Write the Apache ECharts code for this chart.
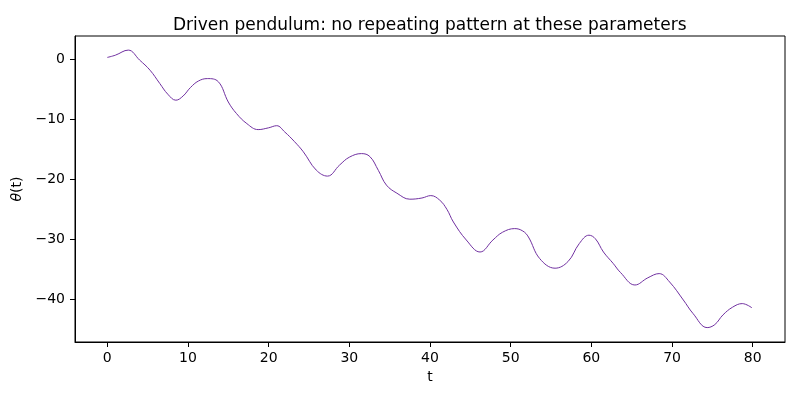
<!DOCTYPE html>
<html>
<head>
<meta charset="UTF-8">
<title>Driven pendulum</title>
<style>
    html, body { margin: 0; padding: 0; background: #fff; }
    #chartArea { width: 800px; height: 400px; }
</style>
</head>
<body>
<div id="chartArea"></div>
<script src="https://cdn.jsdelivr.net/npm/echarts@6/dist/echarts.min.js"></script>
<script>
// values
var tValues = [0, 1.0, 2.6, 4.0, 5.3, 6.5, 7.5, 8.5, 9.4, 10.3, 11.3, 12.4, 13.75, 15.0, 16.0, 17.3, 18.7, 20.0, 21.0, 22.0,
    23.2, 24.3, 25.9, 27.3, 28.8, 30.0, 31.5, 32.55, 33.6, 34.6, 35.9, 37.5, 39.0, 40.1, 41.2, 42.1, 42.9, 44.5, 46.2, 47.8,
    49.0, 50.5, 51.5, 52.2, 53.6, 55.5, 57.1, 58.5, 59.7, 60.5, 61.5, 62.7, 63.6, 65.4, 67.0, 68.4, 69.7, 71.4, 72.6, 74.35,
    75.3, 76.3, 77.5, 78.7, 79.9];
var thetaValues = [0.33, 0.7, 1.55, -0.1, -1.8, -4.0, -5.8, -6.8, -6.1, -4.7, -3.6, -3.2, -3.7, -7.1, -9.0, -10.7, -11.7, -11.4, -11.05, -12.1,
    -13.7, -15.4, -18.45, -19.45, -17.6, -16.3, -15.7, -16.2, -18.5, -20.95, -22.3, -23.3, -23.1, -22.7, -23.45, -25.0, -27.1, -30.1, -32.1, -30.1,
    -28.8, -28.2, -28.6, -29.6, -33.2, -34.8, -33.7, -30.7, -29.3, -29.9, -32.1, -34.0, -35.5, -37.6, -36.4, -35.7, -37.1, -40.1, -42.35, -44.7,
    -44.2, -42.6, -41.3, -40.7, -41.4];
var xTicks = [0, 10, 20, 30, 40, 50, 60, 70, 80];
var yTicks = [-40, -30, -20, -10, 0];

var points = tValues.map(function (t, i) { return [t, thetaValues[i]]; });

function mplMinus(v) {
    return String(v).replace('-', '\u2212');
}

var font = 'DejaVu Sans';
var myChart = echarts.init(document.getElementById('chartArea'));
myChart.setOption({
    animation: false,
    textStyle: { fontFamily: font },
    title: {
        text: 'Driven pendulum: no repeating pattern at these parameters',
        left: 168,
        top: 12,
        textStyle: { fontFamily: font, fontSize: 17, fontWeight: 'normal', color: '#000' }
    },
    grid: {
        left: 75, right: 15, top: 36, bottom: 58,
        show: true, borderColor: '#000', borderWidth: 1
    },
    xAxis: {
        type: 'value',
        min: -4, max: 84,
        name: 't',
        nameLocation: 'middle',
        nameGap: 27,
        nameTextStyle: { fontFamily: font, fontSize: 14, color: '#000' },
        axisLine: { show: true, onZero: false, lineStyle: { color: '#000', width: 1 } },
        splitLine: { show: false },
        axisTick: { show: true, length: 5, lineStyle: { color: '#000' }, customValues: xTicks },
        axisLabel: { margin: 9, fontSize: 14, color: '#000', customValues: xTicks, formatter: mplMinus }
    },
    yAxis: {
        type: 'value',
        min: -47.1, max: 3.9,
        name: '{i|θ}(t)',
        nameLocation: 'middle',
        nameRotate: 90,
        nameGap: 40,
        nameTextStyle: {
            fontFamily: font, fontSize: 14, color: '#000',
            rich: { i: { fontStyle: 'italic', fontFamily: font, fontSize: 14 } }
        },
        axisLine: { show: true, onZero: false, lineStyle: { color: '#000', width: 1 } },
        splitLine: { show: false },
        axisTick: { show: true, length: 5, lineStyle: { color: '#000' }, customValues: yTicks },
        axisLabel: { margin: 10, fontSize: 14, color: '#000', customValues: yTicks, formatter: mplMinus }
    },
    series: [
        {
            name: 'theta',
            type: 'line',
            data: points,
            smooth: 0.4,
            showSymbol: false,
            lineStyle: { color: '#7030a0', width: 1 }
        }
    ]
});
</script>
</body>
</html>
